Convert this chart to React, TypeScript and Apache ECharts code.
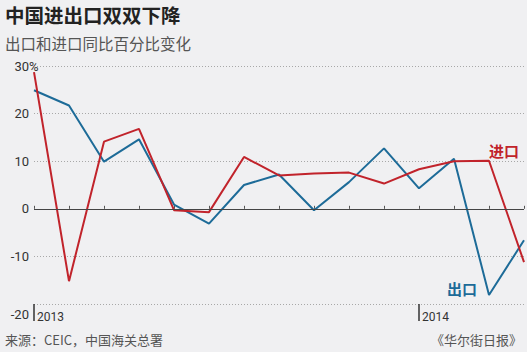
import React, { useEffect, useRef } from "react";
import * as echarts from "echarts";

const categories = [
  "2013-01", "2013-02", "2013-03", "2013-04", "2013-05", "2013-06", "2013-07", "2013-08",
  "2013-09", "2013-10", "2013-11", "2013-12", "2014-01", "2014-02", "2014-03",
];
const exportsYoY = [24.9, 21.7, 9.9, 14.6, 0.9, -3.1, 5.0, 7.2, -0.3, 5.6, 12.7, 4.3, 10.5, -18.1, -6.6];
const importsYoY = [28.7, -15.2, 14.1, 16.8, -0.3, -0.7, 10.9, 7.0, 7.4, 7.6, 5.3, 8.3, 10.0, 10.1, -11.2];
const yearLabels = ["2013", "", "", "", "", "", "", "", "", "", "", "2014", "", "", ""];
const yMin = -20;
const yMax = 30;
const yStep = 10;
const labelIndex = 13;

const RED = "#c1232b";
const BLUE = "#1d6b98";
const BG = "#f0f0f2";
const AXIS_FONT = "Roboto, 'Noto Sans', sans-serif";
const CJK_FONT = "'Noto Sans CJK SC', sans-serif";

export default function App() {
  const ref = useRef<HTMLDivElement>(null);
  useEffect(() => {
    if (!ref.current) return;
    const chart = echarts.init(ref.current, null, { renderer: "svg" });
    const exportData = exportsYoY.map((v, i) =>
      i === labelIndex
        ? {
            value: v,
            label: {
              show: true,
              formatter: "出口",
              position: "left",
              distance: 12,
              offset: [0, -6],
              color: BLUE,
              fontSize: 15,
              fontWeight: "bold",
              fontFamily: CJK_FONT,
            },
          }
        : v
    );
    const importData = importsYoY.map((v, i) =>
      i === labelIndex
        ? {
            value: v,
            label: {
              show: true,
              formatter: "进口",
              position: "top",
              distance: 3,
              offset: [15, 0],
              color: RED,
              fontSize: 15,
              fontWeight: "bold",
              fontFamily: CJK_FONT,
            },
          }
        : v
    );
    chart.setOption({
      animation: false,
      backgroundColor: BG,
      title: [
        {
          text: "中国进出口双双下降",
          left: 5,
          top: 5,
          padding: 0,
          textStyle: { fontSize: 19.5, fontWeight: "bold", color: "#222", fontFamily: CJK_FONT },
        },
        {
          text: "出口和进口同比百分比变化",
          left: 5,
          top: 35,
          padding: 0,
          textStyle: { fontSize: 15.5, fontWeight: "normal", color: "#555", fontFamily: CJK_FONT },
        },
        {
          text: "来源：CEIC，中国海关总署",
          left: 5,
          top: 333,
          padding: 0,
          textStyle: { fontSize: 13, fontWeight: "normal", color: "#555", fontFamily: CJK_FONT },
        },
        {
          text: "《华尔街日报》",
          right: 5,
          top: 333,
          padding: 0,
          textStyle: { fontSize: 13, fontWeight: "normal", color: "#555", fontFamily: CJK_FONT },
        },
      ],
      graphic: [
        {
          type: "text",
          left: 29,
          top: 60,
          style: { text: "%", fontSize: 13, fill: "#333", fontFamily: AXIS_FONT },
        },
      ],
      grid: { left: 34, right: 3, top: 66, bottom: 48, containLabel: false },
      xAxis: [
        {
          type: "category",
          data: categories,
          boundaryGap: false,
          axisLine: { show: false },
          axisTick: { show: true, inside: true, length: 3, interval: 0, lineStyle: { color: "#555" } },
          axisLabel: { show: false },
          splitLine: { show: false },
        },
        {
          type: "category",
          data: categories,
          boundaryGap: false,
          position: "bottom",
          axisLine: { show: false },
          axisTick: {
            show: true,
            length: 17,
            interval: (i: number) => yearLabels[i] !== "",
            lineStyle: { color: "#333", width: 1.5 },
          },
          axisLabel: {
            show: true,
            interval: (i: number) => yearLabels[i] !== "",
            formatter: (_v: string, i: number) => yearLabels[i],
            align: "left",
            padding: [0, 0, 0, 3],
            margin: 7,
            fontSize: 12,
            color: "#333",
            fontFamily: AXIS_FONT,
          },
          splitLine: { show: false },
        },
      ],
      yAxis: {
        type: "value",
        min: yMin,
        max: yMax,
        interval: yStep,
        axisLine: { show: false },
        axisTick: { show: false },
        splitLine: { show: true, lineStyle: { type: [1, 2], color: "#a8a8a8", width: 1 } },
        axisLabel: {
          margin: 5,
          fontSize: 13,
          color: "#333",
          fontFamily: AXIS_FONT,
          formatter: (v: number) => (v === yMin ? "{low|" + v + "}" : String(v)),
          rich: { low: { padding: [20, 0, 0, 0], fontSize: 13, color: "#333", fontFamily: AXIS_FONT } },
        },
      },
      series: [
        {
          name: "出口",
          type: "line",
          data: exportData,
          showSymbol: true,
          symbol: "circle",
          symbolSize: 0,
          lineStyle: { color: BLUE, width: 2 },
          itemStyle: { color: BLUE },
          markLine: {
            silent: true,
            symbol: ["none", "none"],
            label: { show: false },
            lineStyle: { color: "#444", type: "solid", width: 1 },
            data: [{ yAxis: 0 }],
          },
          z: 3,
        },
        {
          name: "进口",
          type: "line",
          data: importData,
          showSymbol: true,
          symbol: "circle",
          symbolSize: 0,
          lineStyle: { color: RED, width: 2 },
          itemStyle: { color: RED },
          z: 4,
        },
      ],
    });
    return () => chart.dispose();
  }, []);
  return (
    <div
      ref={ref}
      style={{ position: "fixed", left: 0, top: 0, width: 527, height: 352, background: BG }}
    />
  );
}
